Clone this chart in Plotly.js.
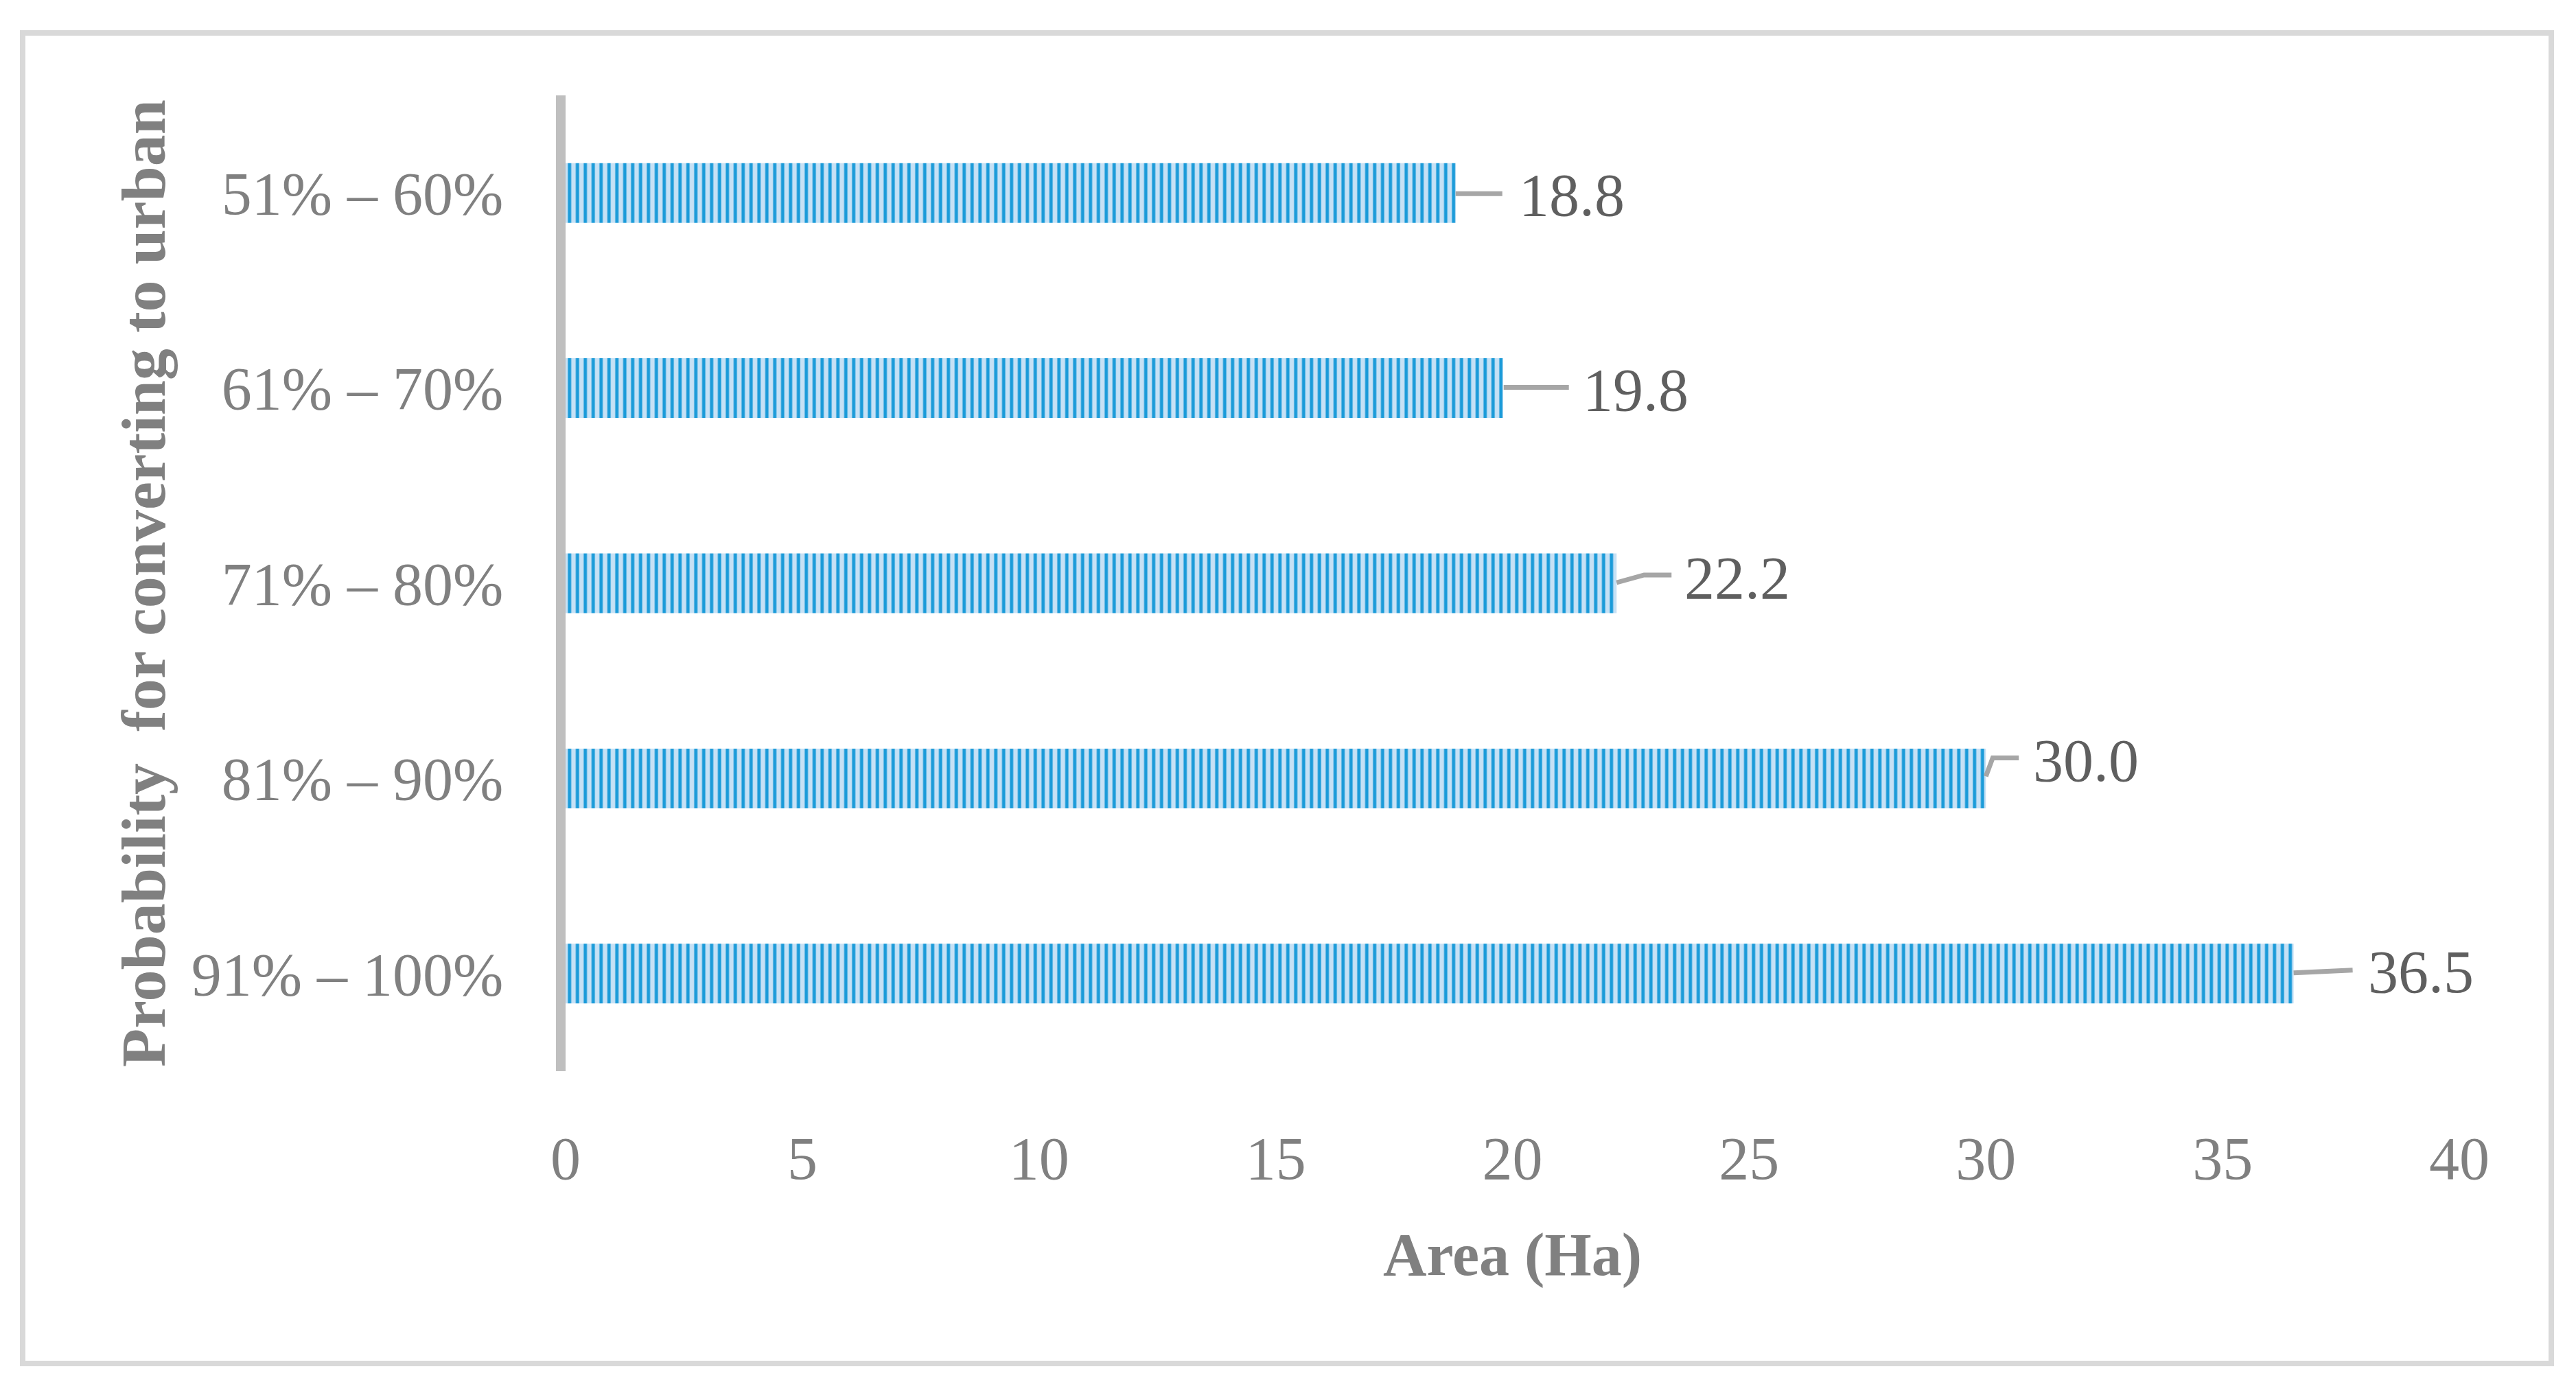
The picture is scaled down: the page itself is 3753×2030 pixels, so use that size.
<!DOCTYPE html>
<html>
<head>
<meta charset="utf-8">
<script src="https://cdn.plot.ly/plotly-3.0.1.min.js"></script>
<style>
  html, body { margin: 0; padding: 0; background: #ffffff; }
  #chart { width: 3753px; height: 2030px; }
</style>
</head>
<body>
<div id="chart"></div>
<script>
// ---- data ----
const categories = ["51% \u2013 60%", "61% \u2013 70%", "71% \u2013 80%", "81% \u2013 90%", "91% \u2013 100%"];
const areaHa = [18.8, 19.8, 22.2, 30.0, 36.5];
const xTickValues = [0, 5, 10, 15, 20, 25, 30, 35, 40];
const xTitle = "Area (Ha)";
const yTitle = "Probability  for converting to urban";

// ---- styling / label placement (pixels relative to bar end) ----
const leaderPaths = [
  "M0,-1 L68,-1",
  "M1,1 L96,1",
  "M0,1 L40,12 L80,12",
  "M0,3 L10,30 L48,30",
  "M0,1 L86,5"
];
const labelShift = [[90, -3], [114, -3], [97, 8], [67, 26], [106, 2]];

const W = 3753, H = 2030;
const M = { l: 824, r: 170, t: 139, b: 469 };
const PW = W - M.l - M.r, PH = H - M.t - M.b;
const px2x = p => (p - M.l) / PW;
const px2y = p => (H - M.b - p) / PH;

const FONT = "Liberation Serif, Times New Roman, serif";
const GREY = "#808080";

const trace = {
  type: "bar",
  orientation: "h",
  y: categories,
  x: areaHa,
  width: 0.306,
  marker: {
    color: "#c6e1f5",
    line: { width: 0 },
    pattern: {
      shape: "|",
      fgcolor: "#1b9bd9",
      bgcolor: "#c6e1f5",
      size: 11.5,
      solidity: 0.42,
      fillmode: "replace"
    }
  },
  hoverinfo: "none",
  showlegend: false
};

const shapes = areaHa.map((v, i) => ({
  type: "path",
  xref: "x", yref: "y",
  xsizemode: "pixel", ysizemode: "pixel",
  xanchor: v, yanchor: i,
  path: leaderPaths[i],
  line: { color: "#a6a6a6", width: 7 }
}));

// outer frame
shapes.push({
  type: "rect", xref: "paper", yref: "paper",
  x0: px2x(33), x1: px2x(3717), y0: px2y(48), y1: px2y(1987),
  line: { color: "#d9d9d9", width: 8 },
  fillcolor: "rgba(0,0,0,0)",
  layer: "below"
});

const annotations = areaHa.map((v, i) => ({
  x: v, y: i, xref: "x", yref: "y",
  text: v.toFixed(1),
  showarrow: false,
  xanchor: "left", yanchor: "middle",
  xshift: labelShift[i][0], yshift: labelShift[i][1],
  font: { family: FONT, size: 88, color: "#5f5f5f" }
}));

const layout = {
  width: W, height: H,
  margin: M,
  paper_bgcolor: "#ffffff",
  plot_bgcolor: "#ffffff",
  font: { family: FONT, size: 88, color: GREY },
  xaxis: {
    range: [0, 40],
    tickvals: xTickValues,
    ticktext: xTickValues.map(String),
    showgrid: false, zeroline: false, showline: false,
    ticks: "",
    ticklabelstandoff: 68,
    tickfont: { family: FONT, size: 88, color: GREY },
    title: { text: "<b>" + xTitle + "</b>", standoff: 60,
             font: { family: FONT, size: 88, color: GREY } },
    fixedrange: true
  },
  yaxis: {
    type: "category",
    categoryorder: "array",
    categoryarray: categories,
    autorange: "reversed",
    showgrid: false, zeroline: false,
    showline: true, linewidth: 14, linecolor: "#bfbfbf",
    ticks: "",
    ticklabelstandoff: 59,
    tickfont: { family: FONT, size: 88, color: GREY },
    title: { text: "<b>" + yTitle + "</b>", standoff: 14,
             font: { family: FONT, size: 92, color: GREY } },
    fixedrange: true
  },
  shapes: shapes,
  annotations: annotations,
  bargap: 0.69
};

Plotly.newPlot("chart", [trace], layout, { staticPlot: true, displayModeBar: false });
</script>
</body>
</html>
